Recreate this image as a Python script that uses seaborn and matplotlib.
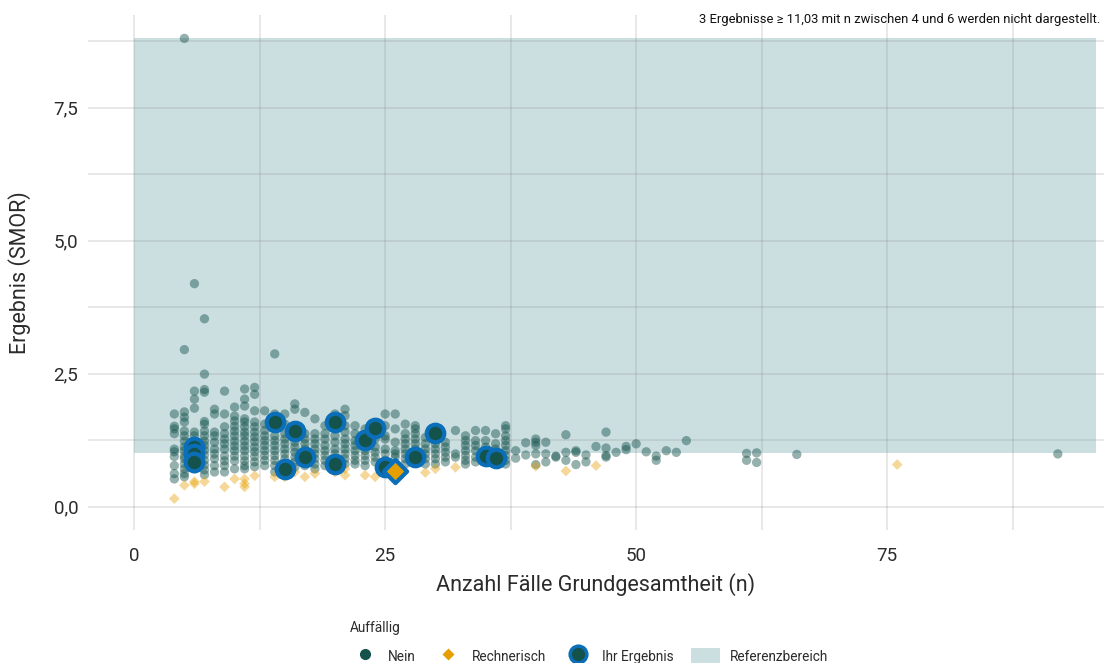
import pandas as pd
import numpy as np
import seaborn as sns
from matplotlib import pyplot as plt
from matplotlib.lines import Line2D
from matplotlib.patches import Patch, Rectangle
from matplotlib.ticker import FixedLocator

# Werte: Spalten je Fallzahl n
nein_n = [4, 5, 6, 7, 8, 9, 10, 11, 12, 13, 14, 15, 16, 17, 18, 19, 20, 21, 22, 23,
          24, 25, 26, 27, 28, 29, 30, 31, 32, 33, 34, 35, 36, 37, 38, 39, 40, 41, 42,
          43, 44, 45, 46, 47, 48, 49, 50, 51, 52, 53, 54, 55, 61, 62, 66, 92]
nein_smor = [
    [1.74, 1.51, 1.46, 1.37, 1.08, 1.03, 0.94, 0.77, 0.62, 0.52],
    [8.80, 2.95, 1.78, 1.68, 1.59, 1.42, 1.33, 1.23, 1.12, 1.05, 0.95, 0.90, 0.80, 0.71, 0.62, 0.56],
    [4.19, 2.17, 2.02, 1.85, 1.40, 1.33, 1.14, 0.99, 0.71],
    [3.53, 2.49, 2.20, 2.15, 1.60, 1.55, 1.42, 1.33, 1.23, 1.15, 1.06, 0.97, 0.87, 0.78, 0.69, 0.60],
    [1.83, 1.74, 1.40, 1.33, 1.21, 1.08, 0.99, 0.90, 0.77, 0.65],
    [2.17, 1.74, 1.50, 1.37, 1.27, 1.18, 1.08, 0.95, 0.86, 0.77, 0.65],
    [1.87, 1.70, 1.61, 1.51, 1.42, 1.33, 1.23, 1.14, 1.05, 0.95, 0.86, 0.71],
    [2.21, 2.02, 1.89, 1.65, 1.59, 1.50, 1.40, 1.33, 1.23, 1.14, 1.05, 0.95, 0.86, 0.77, 0.71],
    [2.24, 2.11, 1.80, 1.59, 1.50, 1.40, 1.31, 1.22, 1.12, 1.03, 0.94, 0.84, 0.75],
    [1.80, 1.55, 1.43, 1.33, 1.24, 1.15, 1.05, 0.96, 0.87, 0.77],
    [2.87, 1.74, 1.33, 1.24, 1.15, 1.05, 0.96, 0.87, 0.77, 0.65],
    [1.74, 1.55, 1.37, 1.27, 1.18, 1.08, 0.99, 0.90, 0.80],
    [1.93, 1.83, 1.30, 1.21, 1.12, 1.02, 0.93, 0.84, 0.74],
    [1.77, 1.37, 1.27, 1.18, 1.08, 0.99, 0.84, 0.77],
    [1.65, 1.37, 1.27, 1.18, 1.08, 0.99, 0.90, 0.80, 0.71],
    [1.52, 1.37, 1.27, 1.15, 1.05, 0.96, 0.87, 0.77],
    [1.74, 1.46, 1.33, 1.21, 1.08, 0.99, 0.90, 0.74],
    [1.83, 1.71, 1.52, 1.40, 1.27, 1.18, 1.08, 0.99, 0.90, 0.80],
    [1.52, 1.37, 1.24, 1.15, 1.05, 0.96, 0.87, 0.80],
    [1.46, 1.15, 1.05, 0.96, 0.87, 0.77],
    [1.27, 1.12, 1.02, 0.93, 0.84],
    [1.74, 1.52, 1.33, 1.27, 1.08, 0.99, 0.87],
    [1.74, 1.46, 1.21, 1.05, 0.99, 0.93],
    [1.55, 1.37, 1.27, 1.18, 1.08, 0.99, 0.90, 0.80],
    [1.52, 1.46, 1.37, 1.27, 1.18, 1.08, 0.99],
    [1.30, 1.18, 1.08, 0.99, 0.90, 0.80],
    [1.18, 1.08, 0.99, 0.90, 0.80],
    [1.21, 1.12, 1.02, 0.93, 0.84],
    [1.43, 0.99, 0.93],
    [1.33, 1.24, 1.15, 1.05, 0.96, 0.87, 0.80],
    [1.43, 1.24, 1.15, 1.05, 0.93, 0.84],
    [1.43, 1.24, 1.12],
    [1.37, 1.18, 1.08],
    [1.52, 1.46, 1.33, 1.24, 1.15, 1.05, 0.96, 0.87, 0.80],
    [1.05, 0.91],
    [1.20, 0.97],
    [1.27, 1.21, 1.15, 0.99, 0.79],
    [1.21, 0.99, 0.84],
    [0.95, 0.93],
    [1.35, 1.02, 0.87],
    [1.05, 1.02, 0.79],
    [0.97, 0.84],
    [1.13],
    [1.40, 1.10, 0.96, 0.93],
    [1.02],
    [1.13, 1.07],
    [1.18],
    [1.03],
    [0.95, 0.87],
    [1.05],
    [1.02],
    [1.24],
    [1.00, 0.87],
    [1.01, 0.83],
    [0.98],
    [0.99],
]

rechn_n = [4, 5, 6, 6, 7, 9, 10, 11, 11, 11, 12, 14, 15, 16, 17, 18, 20, 21, 21, 23,
           24, 29, 30, 32, 40, 43, 46, 76]
rechn_smor = [0.15, 0.40, 0.43, 0.47, 0.47, 0.37, 0.52, 0.52, 0.43, 0.37, 0.58, 0.56,
              0.56, 0.65, 0.56, 0.62, 0.65, 0.71, 0.59, 0.59, 0.56, 0.64, 0.71, 0.74,
              0.76, 0.67, 0.77, 0.79]

# eigene Ergebnisse
ihr_n = [6, 6, 6, 14, 15, 16, 17, 20, 20, 23, 24, 25, 28, 30, 35, 36]
ihr_smor = [1.12, 0.99, 0.84, 1.59, 0.71, 1.42, 0.94, 1.59, 0.80, 1.25, 1.48, 0.75,
            0.94, 1.38, 0.95, 0.92]
ihr_rechn_n = [26]
ihr_rechn_smor = [0.67]

ref_untergrenze = 1.0
ref_x_max = 95.8

x_ticks = [0, 25, 50, 75]
y_ticks = [0, 2.5, 5, 7.5]
y_tick_labels = ["0,0", "2,5", "5,0", "7,5"]

nein = pd.DataFrame({"n": np.repeat(nein_n, [len(v) for v in nein_smor]),
                     "smor": np.concatenate(nein_smor)})
rechn = pd.DataFrame({"n": rechn_n, "smor": rechn_smor})
ihr = pd.DataFrame({"n": ihr_n, "smor": ihr_smor})
ihr_rechn = pd.DataFrame({"n": ihr_rechn_n, "smor": ihr_rechn_smor})

sns.set_theme(style="white")
plt.rcParams["font.family"] = ["Roboto", "DejaVu Sans"]

teal = "#14524c"
orange = "#e69f00"
blau = "#0a6eb8"
ref_farbe = "#cbdfe1"
text_farbe = "#2b2b2b"

fig = plt.figure(figsize=(11.04, 6.63), dpi=100)
ax = fig.add_axes([88 / 1104, 1 - 530 / 663, 1016 / 1104, 515 / 663])

ymax = max(nein["smor"].max(), ihr["smor"].max())
ax.add_patch(Rectangle((0, ref_untergrenze), ref_x_max, ymax - ref_untergrenze,
                       facecolor=ref_farbe, edgecolor="none", zorder=0.8))

sns.scatterplot(data=nein, x="n", y="smor", color=teal, alpha=0.45, s=45,
                edgecolor="none", ax=ax, zorder=3)
sns.scatterplot(data=rechn, x="n", y="smor", color=orange, alpha=0.4, s=30,
                marker="D", edgecolor="none", ax=ax, zorder=3)
sns.scatterplot(data=ihr, x="n", y="smor", color=teal, s=160, edgecolor=blau,
                linewidth=3, ax=ax, zorder=4)
sns.scatterplot(data=ihr_rechn, x="n", y="smor", color=orange, s=140, marker="D",
                edgecolor=blau, linewidth=3, ax=ax, zorder=4)

ax.set_xlim(-4.6, 96.6)
ax.set_ylim(-0.44, 9.24)
ax.set_xticks(x_ticks)
ax.set_xticklabels([str(t) for t in x_ticks])
ax.set_yticks(y_ticks)
ax.set_yticklabels(y_tick_labels)
ax.xaxis.set_minor_locator(FixedLocator([12.5, 37.5, 62.5, 87.5]))
ax.yaxis.set_minor_locator(FixedLocator([1.25, 3.75, 6.25, 8.75]))
ax.set_axisbelow("line")
ax.grid(True, which="both", color="#888888", alpha=0.25, linewidth=1.1)
ax.tick_params(which="both", length=0)
ax.tick_params(axis="x", pad=12, labelsize=13.5, labelcolor=text_farbe)
ax.tick_params(axis="y", pad=7, labelsize=13.5, labelcolor=text_farbe)
for s in ax.spines.values():
    s.set_visible(False)

ax.set_xlabel("Anzahl Fälle Grundgesamtheit (n)", fontsize=15.5, color=text_farbe, labelpad=6)
ax.set_ylabel("Ergebnis (SMOR)", fontsize=15.5, color=text_farbe, labelpad=16)

fig.text(1100 / 1104, 1 - 19 / 663,
         "3 Ergebnisse ≥ 11,03 mit n zwischen 4 und 6 werden nicht dargestellt.",
         ha="right", va="center", fontsize=9.4, color="#111111")

handles = [
    Line2D([], [], marker="o", linestyle="none", markersize=8, markerfacecolor=teal,
           markeredgecolor="none"),
    Line2D([], [], marker="D", linestyle="none", markersize=6, markerfacecolor=orange,
           markeredgecolor="none"),
    Line2D([], [], marker="o", linestyle="none", markersize=12, markerfacecolor=teal,
           markeredgecolor=blau, markeredgewidth=2.5),
    Patch(facecolor=ref_farbe, edgecolor="none"),
]
labels = ["Nein", "Rechnerisch", "Ihr Ergebnis", "Referenzbereich"]
leg = fig.legend(handles, labels, title="Auffällig", ncol=4, frameon=False,
                 loc="upper left", bbox_to_anchor=(338 / 1104, 1 - 609 / 663),
                 fontsize=9.8, title_fontsize=9.8, handlelength=2.1, handleheight=1.6,
                 handletextpad=0.7, columnspacing=1.3, alignment="left")
leg._legend_box.sep = 9
for t in leg.get_texts():
    t.set_color(text_farbe)
leg.get_title().set_color(text_farbe)

fig.savefig("out.png", dpi=100)
